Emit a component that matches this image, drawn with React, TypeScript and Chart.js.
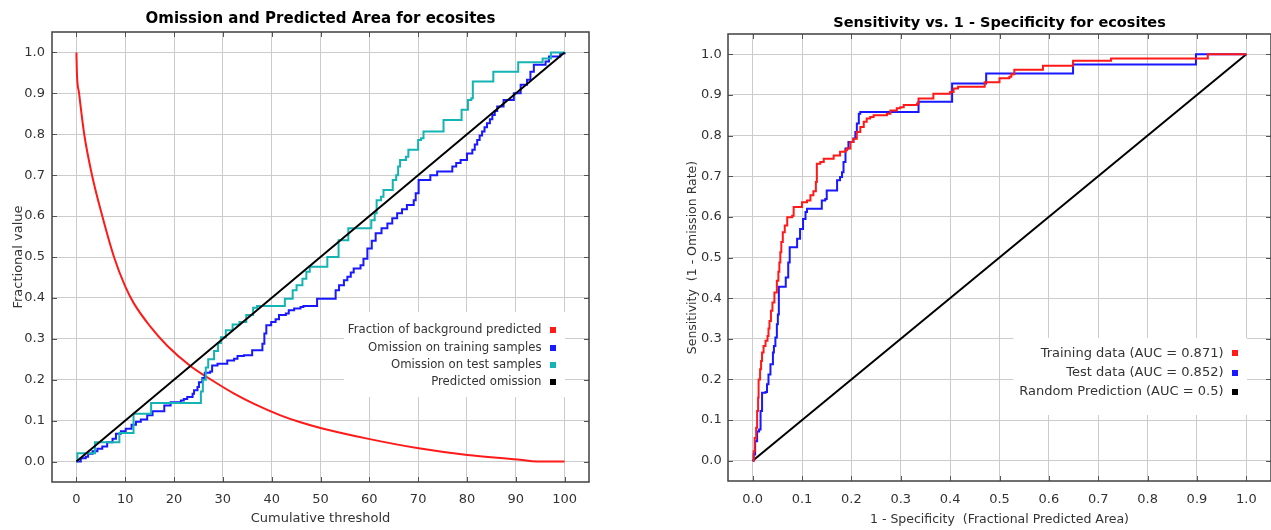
import React, { useEffect, useRef } from "react";
import { Chart, registerables } from "chart.js";

Chart.register(...registerables);

const FONT_FAMILY = "'DejaVu Sans', 'Liberation Sans', sans-serif";
const TEXT_COLOR = "#333333";

// ---------------- Left chart: omission and predicted area ----------------
const LEFT_TITLE = "Omission and Predicted Area for ecosites";
const LEFT_X_TITLE = "Cumulative threshold";
const LEFT_Y_TITLE = "Fractional value";
const THRESHOLD_TICKS = [0, 10, 20, 30, 40, 50, 60, 70, 80, 90, 100];
const FRACTION_TICKS = [0, 0.1, 0.2, 0.3, 0.4, 0.5, 0.6, 0.7, 0.8, 0.9, 1.0];
const LEFT_LABELS = [
  "Fraction of background predicted",
  "Omission on training samples",
  "Omission on test samples",
  "Predicted omission",
];

const BACKGROUND_T = [0, 0.1, 0.55, 1.6, 3.2, 5.3, 7.7, 10, 11.8, 15.2, 18.6, 23.4, 26.8, 32.3, 36.4, 41.8, 45.9, 50, 59.6, 69.8, 80.1, 90.3, 94.4, 100];
const BACKGROUND_V = [1.0, 0.95, 0.9, 0.8, 0.7, 0.6, 0.5, 0.428, 0.386, 0.329, 0.283, 0.233, 0.206, 0.166, 0.141, 0.113, 0.096, 0.082, 0.056, 0.033, 0.016, 0.005, 0.0, 0.0];

const TRAIN_OMISSION_T = [
  0, 0.9, 1.9, 2.4, 3.3, 4.3, 5.3, 6.3, 7.4, 8.1, 9.1, 10.1, 11.3, 12.2, 13.2, 14.5, 15.6, 18.0, 19.3, 21.4,
  22.0, 22.7, 23.8, 24.1, 24.8, 25.1, 25.8, 26.3, 27.4, 27.8, 28.9, 30.9, 32.3, 33.0, 34.3, 36.0, 38.1, 38.5,
  38.9, 39.9, 40.8, 41.5, 42.9, 43.5, 44.6, 45.9, 46.5, 49.3, 53.1, 53.8, 54.8, 55.5, 56.2, 56.8, 58.2, 58.8,
  59.6, 60.5, 61.3, 62.5, 63.7, 64.7, 65.7, 66.7, 67.7, 69.1, 69.5, 70.1, 72.5, 73.9, 77.0, 77.8, 78.7, 80.0,
  81.1, 81.6, 82.1, 82.6, 83.1, 83.6, 84.1, 84.7, 85.2, 85.7, 86.2, 87.5, 89.6, 91.0, 92.3, 93.0, 93.7, 96.1,
  96.8, 99.1, 100,
];
const TRAIN_OMISSION_V = [
  0, 0.008, 0.012, 0.019, 0.025, 0.031, 0.037, 0.047, 0.056, 0.068, 0.074, 0.08, 0.09, 0.097, 0.103, 0.113, 0.123, 0.137, 0.145, 0.149,
  0.153, 0.158, 0.166, 0.174, 0.182, 0.194, 0.204, 0.217, 0.22, 0.235, 0.239, 0.247, 0.251, 0.258, 0.26, 0.272, 0.288, 0.313,
  0.333, 0.341, 0.348, 0.358, 0.362, 0.37, 0.374, 0.378, 0.38, 0.398, 0.419, 0.431, 0.443, 0.452, 0.462, 0.472, 0.48, 0.496,
  0.521, 0.54, 0.558, 0.57, 0.582, 0.595, 0.607, 0.617, 0.627, 0.639, 0.656, 0.688, 0.7, 0.709, 0.721, 0.73, 0.737, 0.753,
  0.762, 0.775, 0.786, 0.797, 0.807, 0.817, 0.827, 0.837, 0.847, 0.857, 0.868, 0.884, 0.9, 0.921, 0.933, 0.953, 0.97, 0.978,
  0.99, 0.998, 1.0,
];

const TEST_OMISSION_T = [
  0, 0.2, 3.8, 8.8, 11.7, 15.3, 25.5, 25.9, 26.5, 27.0, 28.2, 29.0, 29.6, 30.6, 32.0, 33.4, 34.8, 36.2, 37.0, 42.7, 44.3, 45.1,
  46.3, 47.1, 47.8, 51.4, 53.7, 55.7, 60.4, 61.1, 61.5, 62.4, 62.9, 64.8, 65.5, 65.9, 66.3, 67.5, 68.0, 70.0, 70.6,
  71.1, 75.2, 78.9, 80.2, 80.9, 81.2, 85.4, 90.5, 95.5, 97.2, 100,
];
const TEST_OMISSION_V = [
  0, 0.02, 0.047, 0.07, 0.117, 0.143, 0.171, 0.2, 0.23, 0.25, 0.27, 0.29, 0.304, 0.321, 0.335, 0.341, 0.358, 0.376, 0.38, 0.398, 0.419, 0.431,
  0.447, 0.464, 0.476, 0.5, 0.541, 0.57, 0.59, 0.607, 0.639, 0.647, 0.664, 0.688, 0.7, 0.721, 0.737, 0.745, 0.762, 0.786, 0.79,
  0.807, 0.835, 0.86, 0.884, 0.888, 0.929, 0.953, 0.976, 0.985, 1.0, 1.0,
];

const PREDICTED_OMISSION_T = [0, 100];
const PREDICTED_OMISSION_V = [0, 1];

// ---------------- Right chart: ROC ----------------
const RIGHT_TITLE = "Sensitivity vs. 1 - Specificity for ecosites";
const RIGHT_X_TITLE = "1 - Specificity  (Fractional Predicted Area)";
const RIGHT_Y_TITLE = "Sensitivity  (1 - Omission Rate)";
const SPECIFICITY_TICKS = [0, 0.1, 0.2, 0.3, 0.4, 0.5, 0.6, 0.7, 0.8, 0.9, 1.0];
const SENSITIVITY_TICKS = [0, 0.1, 0.2, 0.3, 0.4, 0.5, 0.6, 0.7, 0.8, 0.9, 1.0];
const RIGHT_LABELS = [
  "Training data (AUC = 0.871)",
  "Test data (AUC = 0.852)",
  "Random Prediction (AUC = 0.5)",
];

const TRAIN_FPR = [
  0, 0.002, 0.004, 0.007, 0.009, 0.011, 0.012, 0.015, 0.017, 0.019, 0.022, 0.026, 0.03, 0.032, 0.034, 0.037, 0.04,
  0.044, 0.049, 0.052, 0.054, 0.056, 0.058, 0.061, 0.065, 0.07, 0.08, 0.083, 0.1, 0.11, 0.117, 0.123, 0.128, 0.13,
  0.137, 0.144, 0.164, 0.177, 0.188, 0.191, 0.198, 0.204, 0.211, 0.218, 0.225, 0.231, 0.238, 0.245, 0.272, 0.279,
  0.292, 0.299, 0.306, 0.333, 0.336, 0.366, 0.4, 0.407, 0.416, 0.47, 0.5, 0.52, 0.524, 0.53, 0.588, 0.649, 0.726,
  0.922, 1.0,
];
const TRAIN_TPR = [
  0, 0.023, 0.056, 0.081, 0.122, 0.155, 0.2, 0.225, 0.245, 0.266, 0.282, 0.295, 0.307, 0.325, 0.344, 0.369, 0.389,
  0.414, 0.443, 0.465, 0.488, 0.513, 0.538, 0.562, 0.579, 0.599, 0.603, 0.624, 0.636, 0.64, 0.653, 0.663, 0.686, 0.731,
  0.735, 0.743, 0.751, 0.76, 0.764, 0.768, 0.784, 0.792, 0.809, 0.821, 0.834, 0.842, 0.846, 0.85, 0.854, 0.862,
  0.867, 0.87, 0.875, 0.879, 0.891, 0.903, 0.907, 0.916, 0.92, 0.931, 0.941, 0.945, 0.951, 0.962, 0.972, 0.984, 0.99,
  1.0, 1.0,
];

const TEST_FPR = [
  0, 0.002, 0.005, 0.009, 0.013, 0.016, 0.019, 0.026, 0.029, 0.032, 0.036, 0.041, 0.043, 0.046, 0.049, 0.051, 0.053,
  0.053, 0.067, 0.072, 0.075, 0.09, 0.096, 0.102, 0.107, 0.11, 0.14, 0.147, 0.15, 0.171, 0.177, 0.181, 0.184, 0.188,
  0.194, 0.204, 0.208, 0.211, 0.215, 0.218, 0.336, 0.404, 0.473, 0.649, 0.898, 1.0,
];
const TEST_TPR = [
  0, 0.015, 0.048, 0.072, 0.077, 0.122, 0.167, 0.169, 0.188, 0.212, 0.237, 0.266, 0.282, 0.303, 0.336, 0.36, 0.402,
  0.428, 0.451, 0.488, 0.525, 0.546, 0.57, 0.595, 0.612, 0.62, 0.64, 0.644, 0.665, 0.69, 0.698, 0.71, 0.735, 0.768,
  0.784, 0.793, 0.809, 0.83, 0.854, 0.858, 0.883, 0.928, 0.953, 0.975, 1.0, 1.0,
];

const RANDOM_FPR = [0, 1];
const RANDOM_TPR = [0, 1];

// ---------------- helpers ----------------
const toPoints = (xs: number[], ys: number[]) => xs.map((x, i) => ({ x, y: ys[i] }));

const frameLegendPlugin = {
  id: "frameLegend",
  afterDraw(chart: any, _args: any, opts: any) {
    const { ctx, chartArea: a, scales } = chart;
    ctx.save();
    // inner ticks on all four sides
    const L = 5;
    ctx.strokeStyle = "#555555";
    ctx.lineWidth = 1;
    ctx.beginPath();
    for (const t of scales.x.ticks) {
      const px = Math.round(scales.x.getPixelForValue(t.value)) + 0.5;
      ctx.moveTo(px, a.top);
      ctx.lineTo(px, a.top + L);
      ctx.moveTo(px, a.bottom);
      ctx.lineTo(px, a.bottom - L);
    }
    for (const t of scales.y.ticks) {
      const py = Math.round(scales.y.getPixelForValue(t.value)) + 0.5;
      ctx.moveTo(a.left, py);
      ctx.lineTo(a.left + L, py);
      ctx.moveTo(a.right, py);
      ctx.lineTo(a.right - L, py);
    }
    ctx.stroke();
    // frame
    ctx.strokeStyle = "#404040";
    ctx.lineWidth = 1.5;
    ctx.strokeRect(a.left, a.top, a.right - a.left, a.bottom - a.top);

    // legend inside plot, bottom right
    const lg = opts;
    const items = chart.data.datasets.map((d: any) => ({ label: d.label, color: d.borderColor }));
    ctx.font = `${lg.fontSize}px ${FONT_FAMILY}`;
    const textRight = a.right - lg.textInset;
    const markerX = a.right - lg.markerInset;
    const lastY = a.bottom - lg.bottomInset;
    const firstY = lastY - (items.length - 1) * lg.gap;
    const maxW = Math.max(...items.map((it: any) => ctx.measureText(it.label).width));
    const boxLeft = textRight - maxW - lg.padLeft;
    const boxRight = a.right - lg.boxRightInset;
    const boxTop = firstY - lg.padTop;
    const boxBottom = lastY + lg.padBottom;
    ctx.fillStyle = "#ffffff";
    ctx.fillRect(boxLeft, boxTop, boxRight - boxLeft, boxBottom - boxTop);
    ctx.textAlign = "right";
    ctx.textBaseline = "middle";
    items.forEach((it: any, i: number) => {
      const y = firstY + i * lg.gap;
      ctx.fillStyle = TEXT_COLOR;
      ctx.fillText(it.label, textRight, y);
      ctx.fillStyle = it.color;
      ctx.fillRect(Math.round(markerX - 3), Math.round(y - 3), 6, 6);
    });
    ctx.restore();
  },
};

function axisOptions(opts: {
  min: number; max: number; ticks: number[]; title: string; fmt: (v: number) => string;
  position: "left" | "bottom"; size: number; titlePad: any; tickPad: number; titleSize: number;
}) {
  return {
    type: "linear" as const,
    position: opts.position,
    min: opts.min,
    max: opts.max,
    afterBuildTicks: (axis: any) => {
      axis.ticks = opts.ticks.map((v) => ({ value: v }));
    },
    afterFit: (axis: any) => {
      if (opts.position === "left") axis.width = opts.size;
      else axis.height = opts.size;
    },
    ticks: {
      autoSkip: false,
      maxRotation: 0,
      padding: opts.tickPad,
      color: TEXT_COLOR,
      font: { family: FONT_FAMILY, size: 13 },
      callback: (v: any) => opts.fmt(Number(v)),
    },
    grid: { color: "#cccccc", lineWidth: 1, drawTicks: false },
    border: { display: false },
    title: {
      display: true,
      text: opts.title,
      color: TEXT_COLOR,
      font: { family: FONT_FAMILY, size: opts.titleSize },
      padding: opts.titlePad,
    },
  };
}

function leftConfig(): any {
  return {
    type: "line",
    data: {
      datasets: [
        {
          label: LEFT_LABELS[0],
          data: toPoints(BACKGROUND_T, BACKGROUND_V),
          borderColor: "rgb(255,25,25)",
          cubicInterpolationMode: "monotone",
          order: 4,
        },
        { label: LEFT_LABELS[1], data: toPoints(TRAIN_OMISSION_T, TRAIN_OMISSION_V), borderColor: "rgb(25,25,255)", stepped: true, order: 3 },
        { label: LEFT_LABELS[2], data: toPoints(TEST_OMISSION_T, TEST_OMISSION_V), borderColor: "rgb(20,180,180)", stepped: true, order: 2 },
        { label: LEFT_LABELS[3], data: toPoints(PREDICTED_OMISSION_T, PREDICTED_OMISSION_V), borderColor: "#000000", order: 1 },
      ],
    },
    options: {
      responsive: false,
      animation: false,
      parsing: false,
      layout: { padding: { left: 0, right: 51, top: 0, bottom: 0 } },
      elements: { point: { radius: 0 }, line: { borderWidth: 2, fill: false } },
      plugins: {
        legend: { display: false },
        tooltip: { enabled: false },
        title: {
          display: true,
          fullSize: false,
          text: LEFT_TITLE,
          color: "#000000",
          font: { family: FONT_FAMILY, size: 15, weight: "bold" },
          padding: { top: 10.5, bottom: 3.5 },
        },
        frameLegend: {
          fontSize: 11.7, textInset: 47.5, markerInset: 36.5, bottomInset: 99.7, gap: 17.4,
          padLeft: 4, boxRightInset: 24, padTop: 18, padBottom: 14.7,
        },
      },
      scales: {
        x: axisOptions({
          min: -5, max: 105, ticks: THRESHOLD_TICKS, title: LEFT_X_TITLE, fmt: (v) => String(v),
          position: "bottom", size: 48, titlePad: { top: 0, bottom: 3.2 }, tickPad: 10, titleSize: 13,
        }),
        y: axisOptions({
          min: -0.05, max: 1.05, ticks: FRACTION_TICKS, title: LEFT_Y_TITLE, fmt: (v) => v.toFixed(1),
          position: "left", size: 52, titlePad: { top: 11, bottom: 0 }, tickPad: 7, titleSize: 13,
        }),
      },
    },
    plugins: [frameLegendPlugin],
  };
}

function rightConfig(): any {
  return {
    type: "line",
    data: {
      datasets: [
        { label: RIGHT_LABELS[0], data: toPoints(TRAIN_FPR, TRAIN_TPR), borderColor: "rgb(255,25,25)", stepped: true, order: 1 },
        { label: RIGHT_LABELS[1], data: toPoints(TEST_FPR, TEST_TPR), borderColor: "rgb(25,25,255)", stepped: true, order: 2 },
        { label: RIGHT_LABELS[2], data: toPoints(RANDOM_FPR, RANDOM_TPR), borderColor: "#000000", order: 3 },
      ],
    },
    options: {
      responsive: false,
      animation: false,
      parsing: false,
      layout: { padding: { left: 0, right: 1, top: 0, bottom: 0 } },
      elements: { point: { radius: 0 }, line: { borderWidth: 2, fill: false } },
      plugins: {
        legend: { display: false },
        tooltip: { enabled: false },
        title: {
          display: true,
          fullSize: false,
          text: RIGHT_TITLE,
          color: "#000000",
          font: { family: FONT_FAMILY, size: 14.5, weight: "bold" },
          padding: { top: 14.7, bottom: 1.9 },
        },
        frameLegend: {
          fontSize: 13, textInset: 47.5, markerInset: 36.5, bottomInset: 89.3, gap: 19.2,
          padLeft: 6, boxRightInset: 24, padTop: 15.3, padBottom: 23.3,
        },
      },
      scales: {
        x: axisOptions({
          min: -0.05, max: 1.05, ticks: SPECIFICITY_TICKS, title: RIGHT_X_TITLE, fmt: (v) => v.toFixed(1),
          position: "bottom", size: 49, titlePad: { top: 0, bottom: 3.2 }, tickPad: 11, titleSize: 12.5,
        }),
        y: axisOptions({
          min: -0.05, max: 1.05, ticks: SENSITIVITY_TICKS, title: RIGHT_Y_TITLE, fmt: (v) => v.toFixed(1),
          position: "left", size: 56, titlePad: { top: 13.6, bottom: 0 }, tickPad: 6.3, titleSize: 12.5,
        }),
      },
    },
    plugins: [frameLegendPlugin],
  };
}

function ChartCanvas(props: { makeConfig: () => any; left: number; width: number; height: number }) {
  const ref = useRef<HTMLCanvasElement | null>(null);
  useEffect(() => {
    if (!ref.current) return;
    const chart = new Chart(ref.current, props.makeConfig());
    return () => chart.destroy();
  }, []);
  return (
    <canvas
      ref={ref}
      width={props.width}
      height={props.height}
      style={{ position: "absolute", left: props.left, top: 0, width: props.width, height: props.height }}
    />
  );
}

export default function App() {
  return (
    <div
      style={{
        position: "absolute",
        left: 0,
        top: 0,
        width: 1271,
        height: 530,
        overflow: "hidden",
        background: "#ffffff",
      }}
    >
      <ChartCanvas makeConfig={leftConfig} left={0} width={640} height={530} />
      <ChartCanvas makeConfig={rightConfig} left={672} width={600} height={530} />
    </div>
  );
}
